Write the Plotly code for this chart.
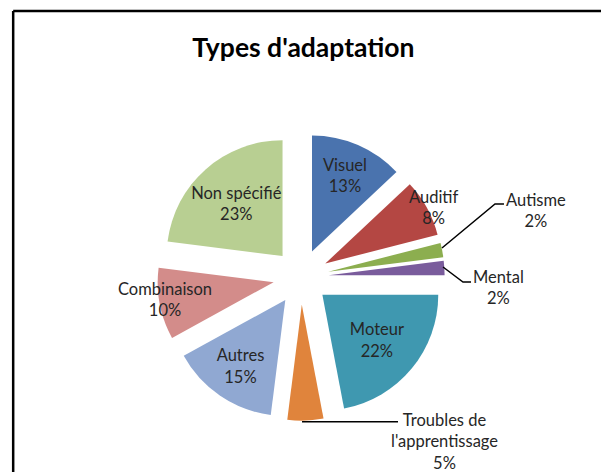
import plotly.graph_objects as go

labels = ["Visuel", "Auditif", "Autisme", "Mental", "Moteur",
          "Troubles de l'apprentissage", "Autres", "Combinaison", "Non spécifié"]
values = [13, 8, 2, 2, 22, 5, 15, 10, 23]
colors = ["#4a73ae", "#b44743", "#8cae4f", "#7a5c9c", "#3f98b0",
          "#e0843c", "#90a8d2", "#d38c8a", "#b8cf92"]
# labels that sit off-centre in the original are placed as annotations
positions = ["inside", "none", "none", "none", "inside",
             "none", "inside", "none", "inside"]

FONT = "Lato, sans-serif"
TXT = "#262626"

fig = go.Figure()
fig.add_trace(go.Pie(
    labels=labels, values=values,
    texttemplate="%{label}<br>%{value}%",
    textposition=positions,
    insidetextorientation="horizontal",
    sort=False, direction="clockwise", rotation=0,
    pull=[0.24] * len(values),
    marker=dict(colors=colors, line=dict(width=0)),
    textfont=dict(family=FONT, size=16.5, color=TXT),
    showlegend=False,
    domain=dict(x=[0.245, 0.717], y=[0.1255, 0.7349]),
    hoverinfo="label+percent",
))

label_spots = {
    "Auditif": (0.6995, 0.5763),
    "Autisme": (0.867, 0.572),
    "Mental": (0.805, 0.408),
    "Troubles de l'apprentissage": (0.716, 0.0826),
    "Combinaison": (0.2578, 0.3814),
}
for name, val in zip(labels, values):
    if name not in label_spots:
        continue
    ax, ay = label_spots[name]
    shown = name.replace("de l'", "de<br>l'")
    fig.add_annotation(text=f"{shown}<br>{val}%", x=ax, y=ay, xref="paper", yref="paper",
                       showarrow=False, align="center", xanchor="center", yanchor="middle",
                       font=dict(family=FONT, size=16.5, color=TXT))

leaders = [
    "M 0.7126 0.4915 L 0.7997 0.5847 L 0.8144 0.5847",
    "M 0.7143 0.4513 L 0.7471 0.4195 L 0.7603 0.4195",
    "M 0.4828 0.1235 L 0.6404 0.1235",
]
for p in leaders:
    fig.add_shape(type="path", path=p, xref="paper", yref="paper",
                  line=dict(color="black", width=1.5))

# chart frame (only top and left edges are visible in the crop)
fig.add_shape(type="line", xref="paper", yref="paper", x0=0.0085, x1=0.0085, y0=-0.1, y1=0.9936,
              line=dict(color="black", width=2.5))
fig.add_shape(type="line", xref="paper", yref="paper", x0=0.0085, x1=1.1, y0=0.9936, y1=0.9936,
              line=dict(color="black", width=2.5))

fig.update_layout(
    title=dict(text="<b>Types d'adaptation</b>", x=0.485, xanchor="center",
               y=0.915, yanchor="middle",
               font=dict(family=FONT, size=26.5, color="black")),
    width=609, height=472,
    margin=dict(l=0, r=0, t=0, b=0),
    paper_bgcolor="white",
    uniformtext=dict(minsize=16.5, mode="show"),
)

fig.write_html("out.html")
